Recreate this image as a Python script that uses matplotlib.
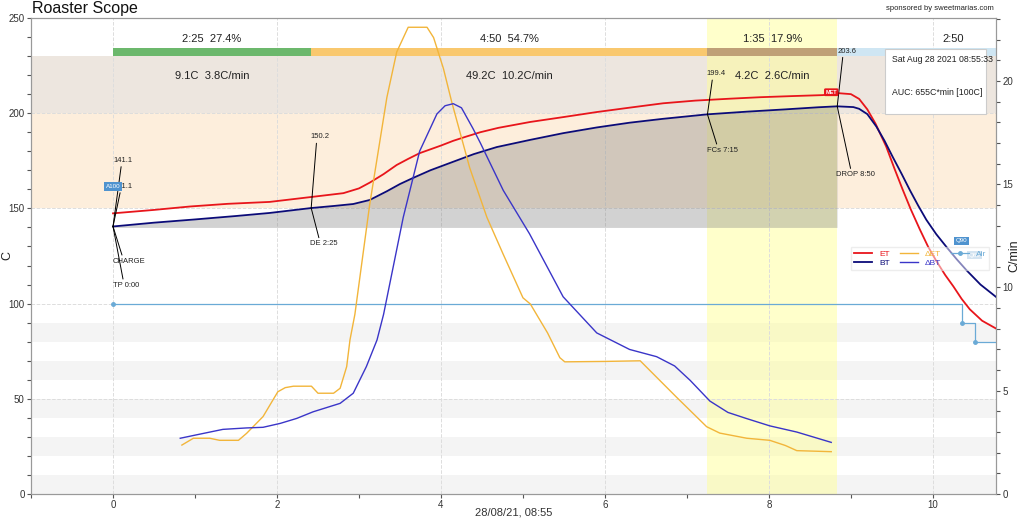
import matplotlib
matplotlib.use("Agg")
import matplotlib.pyplot as plt
from matplotlib.patches import Rectangle
from matplotlib.ticker import MultipleLocator

plt.rcParams['font.family'] = ['Liberation Sans', 'DejaVu Sans']

# --- roast events (minutes) ---
charge_t, charge_v = 0.0, 140.5
de_t, de_v = 2.417, 150.2
fcs_t, fcs_v = 7.25, 199.4
drop_t, drop_v = 8.833, 203.6
end_t = 11.667

phase_time_labels = ["2:25  27.4%", "4:50  54.7%", "1:35  17.9%", "2:50"]
phase_rise_labels = ["9.1C  3.8C/min", "49.2C  10.2C/min", "4.2C  2.6C/min"]
phase_colors = ["#6cb86c", "#f9c86e", "#bfa077", "#cfe6f3"]

# --- temperature curves (C) ---
et_t = [0, 0.5, 0.94, 1.4, 1.91, 2.44, 2.81, 3.0, 3.13, 3.3, 3.46, 3.6, 3.74,
        3.87, 4.0, 4.15, 4.3, 4.48, 4.7, 5.09, 5.5, 5.9, 6.3, 6.71, 7.1, 7.52,
        7.9, 8.3, 8.66, 8.85, 9.0, 9.1, 9.2, 9.3, 9.43, 9.53, 9.63, 9.73, 9.84,
        9.94, 10.04, 10.15, 10.25, 10.35, 10.45, 10.6, 10.77]
et_v = [147.4, 149.2, 151.0, 152.4, 153.4, 156.1, 158.0, 160.5, 163.5, 168.0,
        172.8, 176.0, 179.0, 181.0, 183.0, 185.5, 187.6, 190.0, 192.3, 195.4,
        198.0, 200.6, 202.9, 205.2, 206.6, 207.6, 208.4, 209.0, 209.5, 210.5,
        210.0, 207.5, 202.0, 194.5, 182.5, 171.0, 160.0, 149.5, 139.0, 130.0,
        122.5, 115.0, 109.0, 102.5, 97.0, 91.0, 86.9]

bt_t = [0, 0.5, 1.0, 1.5, 1.91, 2.42, 2.7, 2.93, 3.13, 3.34, 3.5, 3.66, 3.87,
        4.15, 4.4, 4.68, 5.09, 5.49, 5.9, 6.3, 6.7, 7.25, 7.73, 8.2, 8.6, 8.83,
        9.03, 9.1, 9.2, 9.31, 9.41, 9.51, 9.62, 9.72, 9.82, 9.92, 10.04, 10.17,
        10.29, 10.41, 10.58, 10.77]
bt_v = [140.5, 142.5, 144.2, 146.0, 147.6, 150.2, 151.3, 152.3, 154.4, 159.0,
        162.8, 166.0, 170.0, 174.5, 178.5, 182.2, 186.0, 189.5, 192.5, 195.0,
        197.0, 199.4, 200.8, 202.0, 203.1, 203.6, 203.2, 202.3, 199.5, 193.0,
        185.5, 177.0, 168.0, 159.5, 151.5, 144.0, 136.5, 129.5, 123.3, 117.5,
        110.0, 103.5]

# --- rate of rise (C/min) ---
det_t = [0.84, 0.98, 1.18, 1.3, 1.53, 1.63, 1.83, 2.01, 2.1, 2.2, 2.42, 2.5,
         2.69, 2.77, 2.85, 2.89, 2.95, 3.13, 3.34, 3.46, 3.6, 3.83, 3.91, 4.03,
         4.13, 4.35, 4.56, 4.76, 5.0, 5.09, 5.3, 5.45, 5.51, 6.0, 6.43, 6.87,
         7.24, 7.4, 7.73, 8.01, 8.2, 8.34, 8.76]
det_v = [2.37, 2.7, 2.7, 2.6, 2.6, 2.94, 3.75, 4.95, 5.15, 5.22, 5.22, 4.88,
         4.88, 5.12, 6.17, 7.46, 8.7, 14.0, 19.2, 21.4, 22.6, 22.6, 22.1, 20.6,
         19.0, 15.8, 13.4, 11.6, 9.5, 9.2, 7.8, 6.6, 6.4, 6.42, 6.45, 4.7,
         3.26, 2.95, 2.7, 2.6, 2.35, 2.1, 2.05]

dbt_t = [0.82, 1.0, 1.34, 1.63, 1.83, 2.04, 2.24, 2.44, 2.77, 2.93, 3.09, 3.22,
         3.3, 3.54, 3.74, 3.95, 4.05, 4.15, 4.25, 4.39, 4.48, 4.76, 5.08, 5.49,
         5.9, 6.3, 6.63, 6.85, 7.04, 7.28, 7.5, 7.73, 8.01, 8.34, 8.76]
dbt_v = [2.7, 2.85, 3.13, 3.2, 3.23, 3.42, 3.66, 3.98, 4.39, 4.88, 6.17, 7.46,
         8.7, 13.4, 16.6, 18.4, 18.8, 18.9, 18.7, 17.7, 17.0, 14.7, 12.6, 9.55,
         7.8, 7.0, 6.65, 6.2, 5.5, 4.5, 3.95, 3.65, 3.3, 3.0, 2.5]

# --- air events ---
air_t = [0, 10.35, 10.51, 10.77]
air_v = [100, 90, 80, 80]
air_labels = ["A100", "Q90", "Q80"]

fig = plt.figure(figsize=(10.24, 5.21), dpi=100)
ax = fig.add_axes([0.0303, 0.0518, 0.9424, 0.9137])
ax2 = ax.twinx()

ax.set_xlim(-1.0, 10.77)
ax.set_ylim(0, 250)
ax2.set_ylim(0, 23.05)

# background bands
for lo in range(0, 100, 20):
    ax.axhspan(lo, lo + 10, color="#f4f4f4", zorder=0, lw=0)
ax.axhspan(150, 200, color="#fdeedc", zorder=0, lw=0)
ax.axhspan(200, 230, color="#ede6df", zorder=0, lw=0)
ax.axvspan(fcs_t, drop_t, color="#ffff99", alpha=0.5, zorder=0.5, lw=0)

# area under BT
bt_in = [(t, v) for t, v in zip(bt_t, bt_v) if t <= drop_t]
ax.fill_between([p[0] for p in bt_in], 140, [p[1] for p in bt_in],
                color="#808080", alpha=0.35, lw=0, zorder=1)

ax.grid(True, which="major", ls="--", color="#dddddd", lw=0.7, zorder=0.6)
ax.set_axisbelow(True)

# phase bar
bounds = [charge_t, de_t, fcs_t, drop_t, end_t]
for i in range(4):
    ax.add_patch(Rectangle((bounds[i], 230), bounds[i + 1] - bounds[i], 4,
                           color=phase_colors[i], lw=0, zorder=2))
    mid = (bounds[i] + bounds[i + 1]) / 2
    ax.text(mid, 239.2, phase_time_labels[i], ha="center", va="center",
            fontsize=8, color="#222222", zorder=3)
    if i < 3:
        ax.text(mid, 219.3, phase_rise_labels[i], ha="center", va="center",
                fontsize=8, color="#222222", zorder=3)

l_et, = ax.plot(et_t, et_v, color="#e8151b", lw=1.3, zorder=4, label="ET")
l_bt, = ax.plot(bt_t, bt_v, color="#0b0b78", lw=1.3, zorder=4, label="BT")
l_air, = ax.plot(air_t, air_v, color="#6aaad6", lw=0.9, drawstyle="steps-post",
                 marker="o", markersize=2.5, markevery=[0, 1, 2], zorder=3,
                 label="Air")
l_det, = ax2.plot(det_t, det_v, color="#f2b53a", lw=1.0, zorder=4, label="ΔET")
l_dbt, = ax2.plot(dbt_t, dbt_v, color="#3a35c8", lw=1.0, zorder=4, label="ΔBT")

# event annotations
line_kw = dict(arrowstyle="-", color="black", lw=0.7, shrinkA=0, shrinkB=0)
ann = [
    ("141.1", (charge_t, charge_v), (0.01, 175.2), "left", (0.4, 0)),
    ("141.1", (charge_t, charge_v), (0.0, 161.5), "left", (0.4, 0)),
    ("CHARGE", (charge_t, charge_v), (0.0, 122.2), "left", (0.3, 1)),
    ("TP 0:00", (charge_t, charge_v), (0.0, 109.6), "left", (0.4, 1)),
    ("150.2", (de_t, de_v), (2.53, 187.5), "center", (0.3, 0)),
    ("DE 2:25", (de_t, de_v), (2.57, 131.3), "center", (0.35, 1)),
    ("199.4", (fcs_t, fcs_v), (7.36, 220.7), "center", (0.3, 0)),
    ("FCs 7:15", (fcs_t, fcs_v), (7.43, 180.5), "center", (0.35, 1)),
    ("203.6", (drop_t, drop_v), (8.95, 232.6), "center", (0.3, 0)),
    ("DROP 8:50", (drop_t, drop_v), (9.05, 167.7), "center", (0.4, 1)),
]
for txt, xy, xyt, ha, rp in ann:
    ax.annotate(txt, xy=xy, xytext=xyt, ha=ha, va="center", fontsize=5.5,
                color="#222222", zorder=5,
                arrowprops=dict(relpos=rp, **line_kw))

# air labels
box_kw = dict(boxstyle="square,pad=0.25", fc="#4f93cf", ec="none")
ax.text(air_t[0], 161.5, air_labels[0], fontsize=4.5, color="white",
        ha="center", va="center", bbox=box_kw, zorder=6)
ax.text(air_t[1], 133, air_labels[1], fontsize=4.5, color="white",
        ha="center", va="center", bbox=box_kw, zorder=6)
ax.text(air_t[2], 125.4, air_labels[2], fontsize=4.5, color="white",
        ha="center", va="center", zorder=6,
        bbox=dict(boxstyle="square,pad=0.25", fc="#a9c9e4", ec="none"))

# MET marker
ax.text(8.76, 211, "MET", fontsize=4, color="white", ha="center", va="center",
        fontweight="bold", zorder=6,
        bbox=dict(boxstyle="round,pad=0.25", fc="#e8151b", ec="none"))

# info box
ax.add_patch(Rectangle((9.42, 199.7), 1.23, 34.1, fc="white", ec="#cccccc",
                       lw=0.8, zorder=7))
ax.text(9.5, 228.2, "Sat Aug 28 2021 08:55:33", fontsize=6.3, va="center",
        color="#222222", zorder=8)
ax.text(9.5, 211, "AUC: 655C*min [100C]", fontsize=6.3, va="center",
        color="#222222", zorder=8)

# axes styling
ax.xaxis.set_major_locator(MultipleLocator(2))
ax.xaxis.set_minor_locator(MultipleLocator(1))
ax.yaxis.set_major_locator(MultipleLocator(50))
ax.yaxis.set_minor_locator(MultipleLocator(10))
ax2.yaxis.set_major_locator(MultipleLocator(5))
ax2.yaxis.set_minor_locator(MultipleLocator(1))
for a in (ax, ax2):
    a.tick_params(which="both", labelsize=7, colors="#555555", length=3,
                  width=0.8, pad=1.5)
    for s in a.spines.values():
        s.set_color("#999999")
ax.tick_params(axis="both", labelcolor="#333333")
ax2.tick_params(axis="y", labelcolor="#333333")

ax.set_xlabel("28/08/21, 08:55", fontsize=8, color="#333333")
ax.xaxis.set_label_coords(0.5, -0.029)
ax.set_ylabel("C", fontsize=9, color="#222222")
ax.yaxis.set_label_coords(-0.0187, 0.5)
ax2.set_ylabel("C/min", fontsize=9, color="#222222")
ax2.yaxis.set_label_coords(1.0124, 0.5)

leg = ax2.legend(handles=[l_et, l_bt, l_det, l_dbt, l_air], ncol=3,
                 loc="upper right", bbox_to_anchor=(0.997, 0.527),
                 fontsize=6, frameon=True, framealpha=0.5, edgecolor="#dddddd",
                 handlelength=2.2, columnspacing=1.2, borderpad=0.3,
                 labelspacing=0.2, fancybox=False)
for txt, ln in zip(leg.get_texts(), [l_et, l_bt, l_det, l_dbt, l_air]):
    txt.set_color(ln.get_color())
leg.set_zorder(9)

fig.text(0.031, 0.983, "Roaster Scope", fontsize=11.5, va="center",
         color="#111111")
fig.text(0.970, 0.983, "sponsored by sweetmarias.com", fontsize=5.5,
         ha="right", va="center", color="#222222")

fig.savefig("out.png", dpi=100)
